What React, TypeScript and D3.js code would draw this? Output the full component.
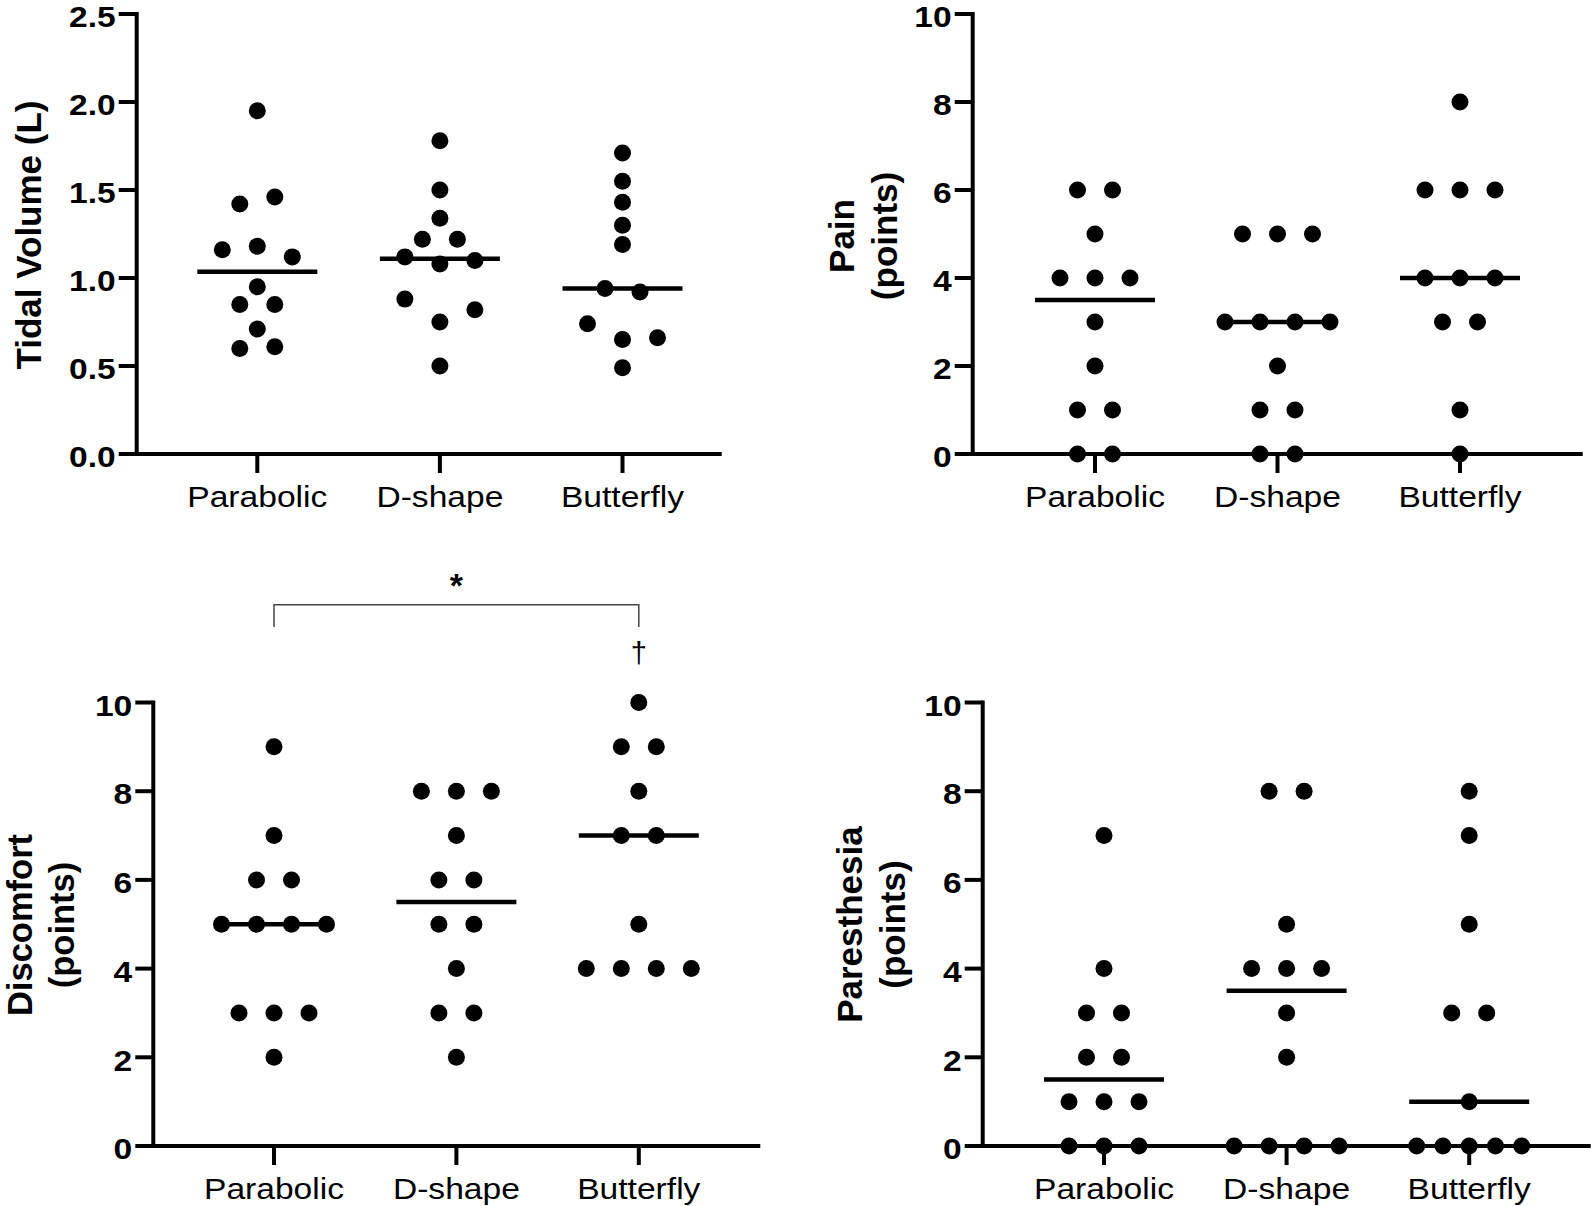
import React from 'react';
import * as d3 from 'd3';

// ---------- data ----------
const categories = ['Parabolic', 'D-shape', 'Butterfly'];

// Tidal volume (L)
const tidalParabolic = [1.95, 0.60, 0.61, 0.71, 0.85, 0.85, 0.95, 1.16, 1.18, 1.12, 1.42, 1.46];
const tidalDShape = [1.78, 1.50, 1.34, 1.22, 1.22, 1.12, 1.08, 1.10, 0.88, 0.75, 0.82, 0.50];
const tidalButterfly = [1.71, 1.55, 1.43, 1.30, 1.19, 0.94, 0.92, 0.74, 0.65, 0.66, 0.49];

// Pain (points)
const painParabolic = [6, 6, 5, 4, 4, 4, 3, 2, 1, 1, 0, 0];
const painDShape = [5, 5, 5, 3, 3, 3, 3, 2, 1, 1, 0, 0];
const painButterfly = [8, 6, 6, 6, 4, 4, 4, 3, 3, 1, 0];

// Discomfort (points)
const discParabolic = [9, 7, 6, 6, 5, 5, 5, 5, 3, 3, 3, 2];
const discDShape = [8, 8, 8, 7, 6, 6, 5, 5, 4, 3, 3, 2];
const discButterfly = [10, 9, 9, 8, 7, 7, 5, 4, 4, 4, 4];

// Paresthesia (points)
const parParabolic = [7, 4, 3, 3, 2, 2, 1, 1, 1, 0, 0, 0];
const parDShape = [8, 8, 5, 4, 4, 4, 3, 2, 0, 0, 0, 0];
const parButterfly = [8, 7, 5, 3, 3, 1, 0, 0, 0, 0, 0];

const tidalTicks = [0, 0.5, 1.0, 1.5, 2.0, 2.5];
const scoreTicks = [0, 2, 4, 6, 8, 10];

const significanceLabel = '*';
const daggerLabel = '†';

// ---------- style ----------
const FONT = '"Liberation Sans", Arial, Helvetica, sans-serif';
const SX = 1.12; // horizontal stretch of horizontal text
const R = 8.5;
const SLOT = 35;
const MAX_SPREAD = 105;
const MEDIAN_HALF = 60;
const AXIS_W = 4;

type PanelProps = {
  x0: number;
  yTop: number;
  yBottom: number;
  xLen: number;
  firstOffset: number;
  step: number;
  yMax: number;
  ticks: number[];
  fmt: (v: number) => string;
  titleLines: string[];
  titleBaselines: number[];
  titleCenterY: number;
  titleSize?: number;
  series: number[][];
  children?: (x: d3.ScalePoint<string>, y: d3.ScaleLinear<number, number>) => React.ReactNode;
};

function swarm(values: number[], y: d3.ScaleLinear<number, number>) {
  const idx = values.map((_, i) => i).sort((a, b) => values[a] - values[b] || a - b);
  const rows: number[][] = [];
  let prev: number | null = null;
  idx.forEach((i) => {
    const py = y(values[i]);
    if (prev !== null && Math.abs(prev - py) < 2 * R) {
      rows[rows.length - 1].push(i);
    } else {
      rows.push([i]);
    }
    prev = py;
  });
  const offsets = new Array(values.length).fill(0);
  rows.forEach((row) => {
    const ordered = [...row].sort((a, b) => a - b);
    const n = ordered.length;
    const sp = n > 1 ? Math.min(SLOT, MAX_SPREAD / (n - 1)) : 0;
    ordered.forEach((i, k) => {
      offsets[i] = (k - (n - 1) / 2) * sp;
    });
  });
  return offsets;
}

function Panel(p: PanelProps) {
  const y = d3.scaleLinear().domain([0, p.yMax]).range([p.yBottom, p.yTop]);
  const x = d3
    .scalePoint<string>()
    .domain(categories)
    .range([p.x0 + p.firstOffset, p.x0 + p.firstOffset + 2 * p.step]);
  return (
    <g>
      {/* y title */}
      {p.titleLines.map((t, i) => (
        <text
          key={t}
          transform={`translate(${p.titleBaselines[i]},${p.titleCenterY}) rotate(-90)`}
          textAnchor="middle"
          fontFamily={FONT}
          fontWeight="bold"
          fontSize={p.titleSize || 35}
          fill="#000"
        >
          {t}
        </text>
      ))}
      {/* y ticks */}
      {p.ticks.map((t) => (
        <g key={t}>
          <line x1={p.x0 - 18} x2={p.x0} y1={y(t)} y2={y(t)} stroke="#000" strokeWidth={AXIS_W} />
          <text
            transform={`translate(${p.x0 - 21},${y(t) + 13.2}) scale(${SX},1)`}
            textAnchor="end"
            fontFamily={FONT}
            fontWeight="bold"
            fontSize={30}
            fill="#000"
          >
            {p.fmt(t)}
          </text>
        </g>
      ))}
      {/* x ticks & labels */}
      {categories.map((c) => (
        <g key={c}>
          <line x1={x(c)} x2={x(c)} y1={p.yBottom} y2={p.yBottom + 19} stroke="#000" strokeWidth={AXIS_W} />
          <text
            transform={`translate(${x(c)},${p.yBottom + 53}) scale(${SX},1)`}
            textAnchor="middle"
            fontFamily={FONT}
            fontSize={30}
            fill="#000"
          >
            {c}
          </text>
        </g>
      ))}
      {/* axes */}
      <path
        d={`M${p.x0},${p.yTop - 2}V${p.yBottom}H${p.x0 + p.xLen}`}
        fill="none"
        stroke="#000"
        strokeWidth={AXIS_W}
        strokeLinejoin="miter"
      />
      {/* points */}
      {p.series.map((vals, si) => {
        const cx = x(categories[si]) as number;
        const offs = swarm(vals, y);
        return (
          <g key={si}>
            {vals.map((v, i) => (
              <circle key={i} cx={cx + offs[i]} cy={y(v)} r={R} fill="#000" />
            ))}
          </g>
        );
      })}
      {/* medians */}
      {p.series.map((vals, si) => {
        const cx = x(categories[si]) as number;
        const m = d3.median(vals) as number;
        return (
          <line
            key={'m' + si}
            x1={cx - MEDIAN_HALF}
            x2={cx + MEDIAN_HALF}
            y1={y(m)}
            y2={y(m)}
            stroke="#000"
            strokeWidth={4.5}
          />
        );
      })}
      {p.children ? p.children(x, y) : null}
    </g>
  );
}

export default function App() {
  const fmt1 = d3.format('.1f');
  const fmt0 = d3.format('d');
  return (
    <svg
      width={1593}
      height={1206}
      viewBox="0 0 1593 1206"
      style={{ position: 'absolute', left: 0, top: 0, background: '#fff' }}
    >
      <rect width={1593} height={1206} fill="#fff" />
      <Panel
        x0={136.7}
        yTop={14}
        yBottom={454}
        xLen={585}
        firstOffset={120.6}
        step={182.6}
        yMax={2.5}
        ticks={tidalTicks}
        fmt={fmt1}
        titleLines={['Tidal Volume (L)']}
        titleBaselines={[40.5]}
        titleCenterY={235}
        series={[tidalParabolic, tidalDShape, tidalButterfly]}
      />
      <Panel
        x0={972.7}
        yTop={14}
        yBottom={454}
        xLen={610}
        firstOffset={122.3}
        step={182.5}
        yMax={10}
        ticks={scoreTicks}
        fmt={fmt0}
        titleLines={['Pain', '(points)']}
        titleBaselines={[854, 896.8]}
        titleCenterY={236}
        series={[painParabolic, painDShape, painButterfly]}
      />
      <Panel
        x0={153.3}
        yTop={702.5}
        yBottom={1146}
        xLen={607}
        firstOffset={120.7}
        step={182.4}
        yMax={10}
        ticks={scoreTicks}
        fmt={fmt0}
        titleLines={['Discomfort', '(points)']}
        titleBaselines={[31.5, 73.5]}
        titleCenterY={925}
        titleSize={34.5}
        series={[discParabolic, discDShape, discButterfly]}
      >
        {(x) => {
          const xa = x(categories[0]) as number;
          const xb = x(categories[2]) as number;
          return (
            <g>
              <path
                d={`M${xa},627V604.7H${xb}V627`}
                fill="none"
                stroke="#444"
                strokeWidth={1.5}
              />
              <text
                x={(xa + xb) / 2}
                y={597}
                textAnchor="middle"
                fontFamily={FONT}
                fontWeight="bold"
                fontSize={34}
                fill="#000"
              >
                {significanceLabel}
              </text>
              <text
                x={xb}
                y={663}
                textAnchor="middle"
                fontFamily={FONT}
                fontSize={29}
                fill="#000"
              >
                {daggerLabel}
              </text>
            </g>
          );
        }}
      </Panel>
      <Panel
        x0={982.7}
        yTop={702.5}
        yBottom={1146}
        xLen={608}
        firstOffset={121.3}
        step={182.6}
        yMax={10}
        ticks={scoreTicks}
        fmt={fmt0}
        titleLines={['Paresthesia', '(points)']}
        titleBaselines={[861.7, 904.5]}
        titleCenterY={924.6}
        series={[parParabolic, parDShape, parButterfly]}
      />
    </svg>
  );
}
